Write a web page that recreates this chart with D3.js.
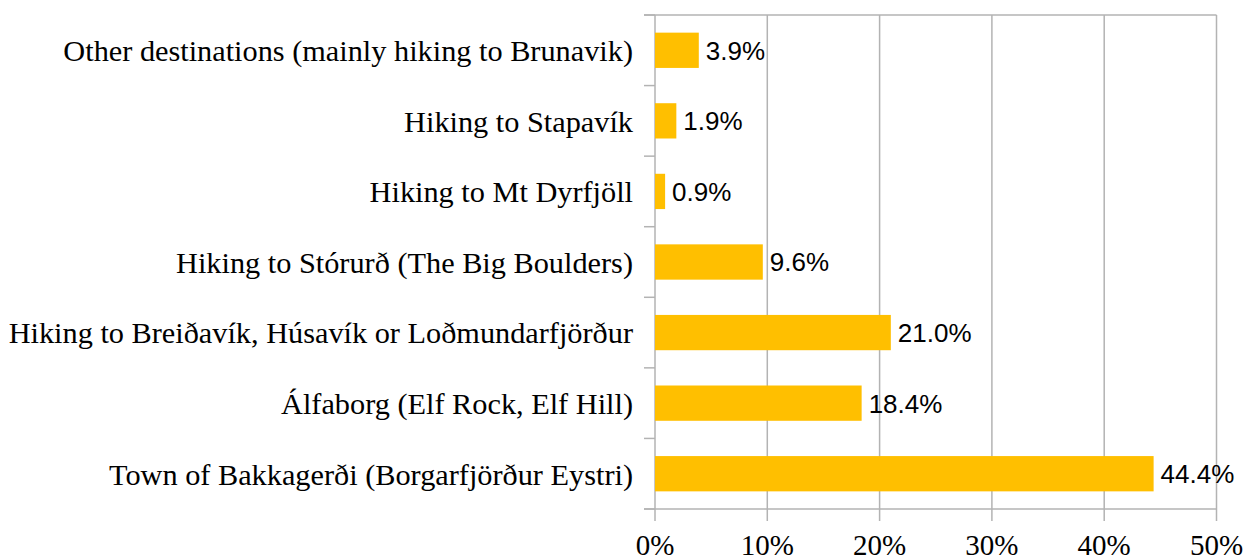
<!DOCTYPE html>
<html>
<head>
<meta charset="utf-8">
<script src="https://cdn.jsdelivr.net/npm/d3@7"></script>
<style>
  html, body { margin: 0; padding: 0; background: #fff; overflow: hidden; }
</style>
</head>
<body>
<div id="chart"></div>
<script>
// categories from top to bottom
const categories = [
    "Other destinations (mainly hiking to Brunavik)",
    "Hiking to Stapavík",
    "Hiking to Mt Dyrfjöll",
    "Hiking to Stórurð (The Big Boulders)",
    "Hiking to Breiðavík, Húsavík or Loðmundarfjörður",
    "Álfaborg (Elf Rock, Elf Hill)",
    "Town of Bakkagerði (Borgarfjörður Eystri)"
];
const values = [3.9, 1.9, 0.9, 9.6, 21.0, 18.4, 44.4];
const xTicks = [0, 10, 20, 30, 40, 50];

const totalW = 1245, totalH = 557;
const margin = { top: 15, right: 28.5, bottom: 48, left: 655 };
const width = totalW - margin.left - margin.right;
const height = totalH - margin.top - margin.bottom;

const gridColor = "#b3b3b3";
const barColor = "#ffbf00";

const svg = d3.select("#chart")
    .append("svg")
    .attr("width", totalW)
    .attr("height", totalH)
    .append("g")
    .attr("transform", `translate(${margin.left},${margin.top})`);

const x = d3.scaleLinear()
    .domain([0, 50])
    .range([0, width]);

const y = d3.scaleBand()
    .domain(categories)
    .range([0, height])
    .paddingInner(0.5)
    .paddingOuter(0.25);

// vertical gridlines (extend below axis as tick marks)
svg.selectAll(".grid")
    .data(xTicks)
    .enter()
    .append("line")
    .attr("x1", d => x(d))
    .attr("x2", d => x(d))
    .attr("y1", 0)
    .attr("y2", height + 12)
    .attr("stroke", gridColor)
    .attr("stroke-width", 1.5);

// top line
svg.append("line")
    .attr("x1", -11)
    .attr("x2", width)
    .attr("y1", 0)
    .attr("y2", 0)
    .attr("stroke", gridColor)
    .attr("stroke-width", 1.5);

// bottom axis line
svg.append("line")
    .attr("x1", -11)
    .attr("x2", width)
    .attr("y1", height)
    .attr("y2", height)
    .attr("stroke", gridColor)
    .attr("stroke-width", 1.5);

// category boundary ticks on the left
const step = height / categories.length;
svg.selectAll(".ytick")
    .data(d3.range(categories.length + 1))
    .enter()
    .append("line")
    .attr("x1", -11)
    .attr("x2", 0)
    .attr("y1", i => i * step)
    .attr("y2", i => i * step)
    .attr("stroke", gridColor)
    .attr("stroke-width", 1.5);

// bars
svg.selectAll(".bar")
    .data(values)
    .enter()
    .append("rect")
    .attr("x", x(0))
    .attr("y", (d, i) => y(categories[i]))
    .attr("width", d => x(d) - x(0))
    .attr("height", y.bandwidth())
    .attr("fill", barColor);

// value labels
svg.selectAll(".val")
    .data(values)
    .enter()
    .append("text")
    .attr("x", d => x(d) + 7)
    .attr("y", (d, i) => y(categories[i]) + y.bandwidth() / 2)
    .attr("dy", "0.36em")
    .attr("font-family", "Liberation Sans, Arial, sans-serif")
    .attr("font-size", "26px")
    .attr("fill", "#000")
    .text(d => d.toFixed(1) + "%");

// category labels
svg.selectAll(".cat")
    .data(categories)
    .enter()
    .append("text")
    .attr("x", -22)
    .attr("y", d => y(d) + y.bandwidth() / 2)
    .attr("dy", "0.36em")
    .attr("text-anchor", "end")
    .attr("font-family", "Liberation Serif, Times New Roman, serif")
    .attr("font-size", "30.3px")
    .attr("fill", "#000")
    .text(d => d);

// x tick labels (sit at the very bottom edge, as in the source)
svg.selectAll(".xlab")
    .data(xTicks)
    .enter()
    .append("text")
    .attr("x", d => x(d))
    .attr("y", height + 46)
    .attr("text-anchor", "middle")
    .attr("font-family", "Liberation Serif, Times New Roman, serif")
    .attr("font-size", "29px")
    .attr("fill", "#000")
    .text(d => d + "%");
</script>
</body>
</html>
